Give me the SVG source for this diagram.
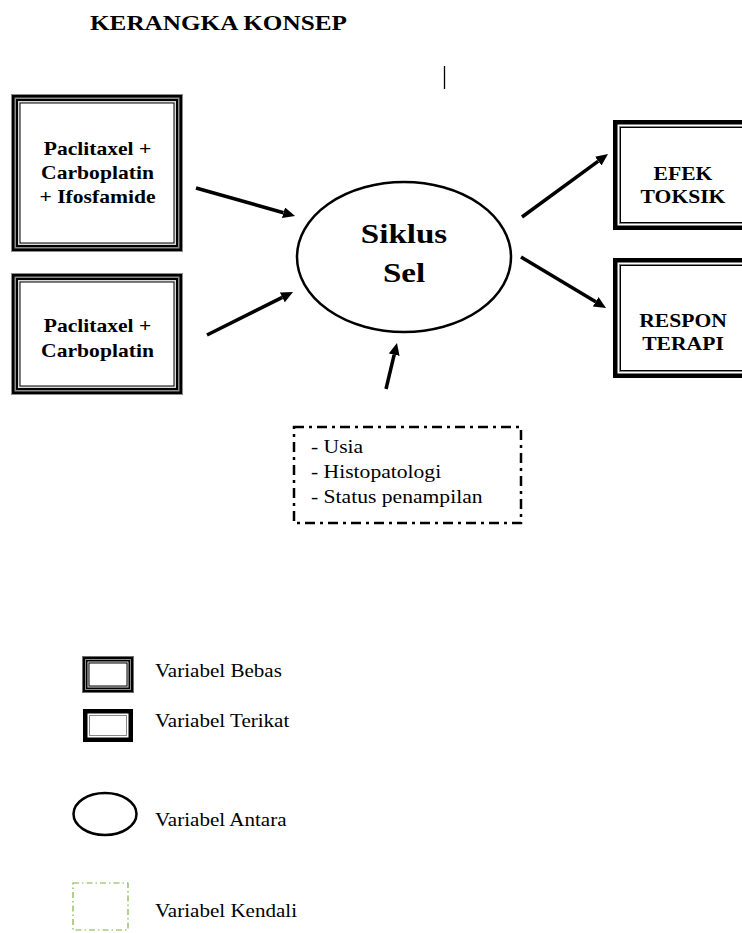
<svg xmlns="http://www.w3.org/2000/svg" width="742" height="933" viewBox="0 0 742 933">
<defs>
<style>
.bg{fill:#fff}
.k{fill:#000}
.g1{fill:#8c8c8c}
.g2{fill:#d9d9d9}
.g3{fill:#888}
.w{fill:#fff}
.tb{font-family:"Liberation Serif","Times New Roman",serif;font-weight:bold;fill:#000}
.tr{font-family:"Liberation Serif","Times New Roman",serif;fill:#000}
.conn{stroke:#000;stroke-width:3.5;fill:none;marker-end:url(#ah)}
</style>
<marker id="ah" viewBox="0 0 12 11" refX="0" refY="5.5" markerWidth="12" markerHeight="11" markerUnits="userSpaceOnUse" orient="auto">
<path d="M0,0 L12,5.5 L0,11 z" fill="#000"/>
</marker>
</defs>
<rect class="bg" x="0" y="0" width="742" height="933"/>

<text class="tb" font-size="21" transform="translate(90,30) scale(1.2,1)">KERANGKA KONSEP</text>
<line x1="444.5" y1="66" x2="444.5" y2="89" stroke="#000" stroke-width="1.3"/>

<g id="box-pci">
<rect class="g1" x="11" y="94" width="172" height="158"/>
<rect class="k" x="12" y="95" width="170" height="156"/>
<rect class="g1" x="14.5" y="97.5" width="165" height="151"/>
<rect class="k" x="16" y="99" width="162" height="148"/>
<rect class="g2" x="18" y="101" width="158" height="144"/>
<rect class="k" x="19.5" y="102.5" width="155" height="141"/>
<rect class="w" x="20.5" y="103.5" width="153" height="139"/>
<g class="tb" font-size="18" text-anchor="middle">
<text transform="translate(97.5,155) scale(1.2,1)">Paclitaxel +</text>
<text transform="translate(97.5,179) scale(1.2,1)">Carboplatin</text>
<text transform="translate(97.5,203) scale(1.2,1)">+ Ifosfamide</text>
</g>
</g>

<g id="box-pc">
<rect class="g1" x="11" y="273" width="172" height="122"/>
<rect class="k" x="12" y="274" width="170" height="120"/>
<rect class="g1" x="14.5" y="276.5" width="165" height="115"/>
<rect class="k" x="16" y="278" width="162" height="112"/>
<rect class="g2" x="18" y="280" width="158" height="108"/>
<rect class="k" x="19.5" y="281.5" width="155" height="105"/>
<rect class="w" x="20.5" y="282.5" width="153" height="103"/>
<g class="tb" font-size="18" text-anchor="middle">
<text transform="translate(97.5,332) scale(1.2,1)">Paclitaxel +</text>
<text transform="translate(97.5,357) scale(1.2,1)">Carboplatin</text>
</g>
</g>

<g id="siklus-sel">
<ellipse cx="404" cy="257" rx="107" ry="75" fill="#fff" stroke="#000" stroke-width="2.5"/>
<g class="tb" font-size="28" text-anchor="middle">
<text transform="translate(404,243) scale(1.18,1)">Siklus</text>
<text transform="translate(404,282) scale(1.18,1)">Sel</text>
</g>
</g>

<g id="efek-toksik">
<rect class="k" x="613" y="120" width="140" height="110"/>
<rect class="w" x="617.5" y="124.5" width="131" height="101"/>
<rect class="g3" x="619" y="126" width="128" height="98"/>
<rect class="k" x="620" y="127" width="126" height="96"/>
<rect class="w" x="621" y="128" width="124" height="94"/>
<g class="tb" font-size="18" text-anchor="middle">
<text transform="translate(683,180) scale(1.2,1)">EFEK</text>
<text transform="translate(683,203) scale(1.2,1)">TOKSIK</text>
</g>
</g>

<g id="respon-terapi">
<rect class="k" x="613" y="258" width="140" height="120"/>
<rect class="w" x="617.5" y="262.5" width="131" height="111"/>
<rect class="g3" x="619" y="264" width="128" height="108"/>
<rect class="k" x="620" y="265" width="126" height="106"/>
<rect class="w" x="621" y="266" width="124" height="104"/>
<g class="tb" font-size="18" text-anchor="middle">
<text transform="translate(683,327) scale(1.2,1)">RESPON</text>
<text transform="translate(683,350) scale(1.2,1)">TERAPI</text>
</g>
</g>

<g id="kendali">
<rect x="294" y="427" width="227" height="96" fill="#fff" stroke="#000" stroke-width="2.5" stroke-dasharray="10 5 3 5"/>
<g class="tr" font-size="18">
<text transform="translate(311,453) scale(1.2,1)">- Usia</text>
<text transform="translate(311,478) scale(1.2,1)">- Histopatologi</text>
<text transform="translate(311,503) scale(1.2,1)">- Status penampilan</text>
</g>
</g>

<g id="connectors">
<line class="conn" x1="196" y1="188" x2="283.5" y2="212.7"/>
<line class="conn" x1="207" y1="335" x2="282.3" y2="297.4"/>
<line class="conn" x1="386" y1="389" x2="394.2" y2="354.7"/>
<line class="conn" x1="522" y1="217" x2="598.3" y2="161.1"/>
<line class="conn" x1="521" y1="257" x2="595.7" y2="301.8"/>
</g>

<g id="legend">
<g id="legend-bebas">
<rect fill="#6e6e6e" x="82" y="656" width="52" height="37"/>
<rect class="k" x="83" y="657" width="50" height="35"/>
<rect class="g1" x="85" y="659" width="46" height="31"/>
<rect class="k" x="86" y="660" width="44" height="29"/>
<rect class="g2" x="87.5" y="661.5" width="41" height="26"/>
<rect class="k" x="88.5" y="662.5" width="39" height="24"/>
<rect class="w" x="89.5" y="663.5" width="37" height="22"/>
<text class="tr" font-size="18" transform="translate(155,677) scale(1.17,1)">Variabel Bebas</text>
</g>
<g id="legend-terikat">
<rect class="k" x="83" y="709" width="50" height="33"/>
<rect class="w" x="87.5" y="713.5" width="41" height="24"/>
<rect class="g3" x="89" y="715" width="38" height="21"/>
<rect class="w" x="90" y="716" width="36" height="19"/>
<text class="tr" font-size="18" transform="translate(155,727) scale(1.17,1)">Variabel Terikat</text>
</g>
<g id="legend-antara">
<ellipse cx="105" cy="814" rx="31.5" ry="21" fill="#fff" stroke="#000" stroke-width="2.5"/>
<text class="tr" font-size="18" transform="translate(155,826) scale(1.17,1)">Variabel Antara</text>
</g>
<g id="legend-kendali">
<rect x="73" y="883" width="55" height="47" fill="none" stroke="#7cb342" stroke-width="1.2" stroke-dasharray="6 3 1.5 3"/>
<text class="tr" font-size="18" transform="translate(155,917) scale(1.17,1)">Variabel Kendali</text>
</g>
</g>
</svg>
